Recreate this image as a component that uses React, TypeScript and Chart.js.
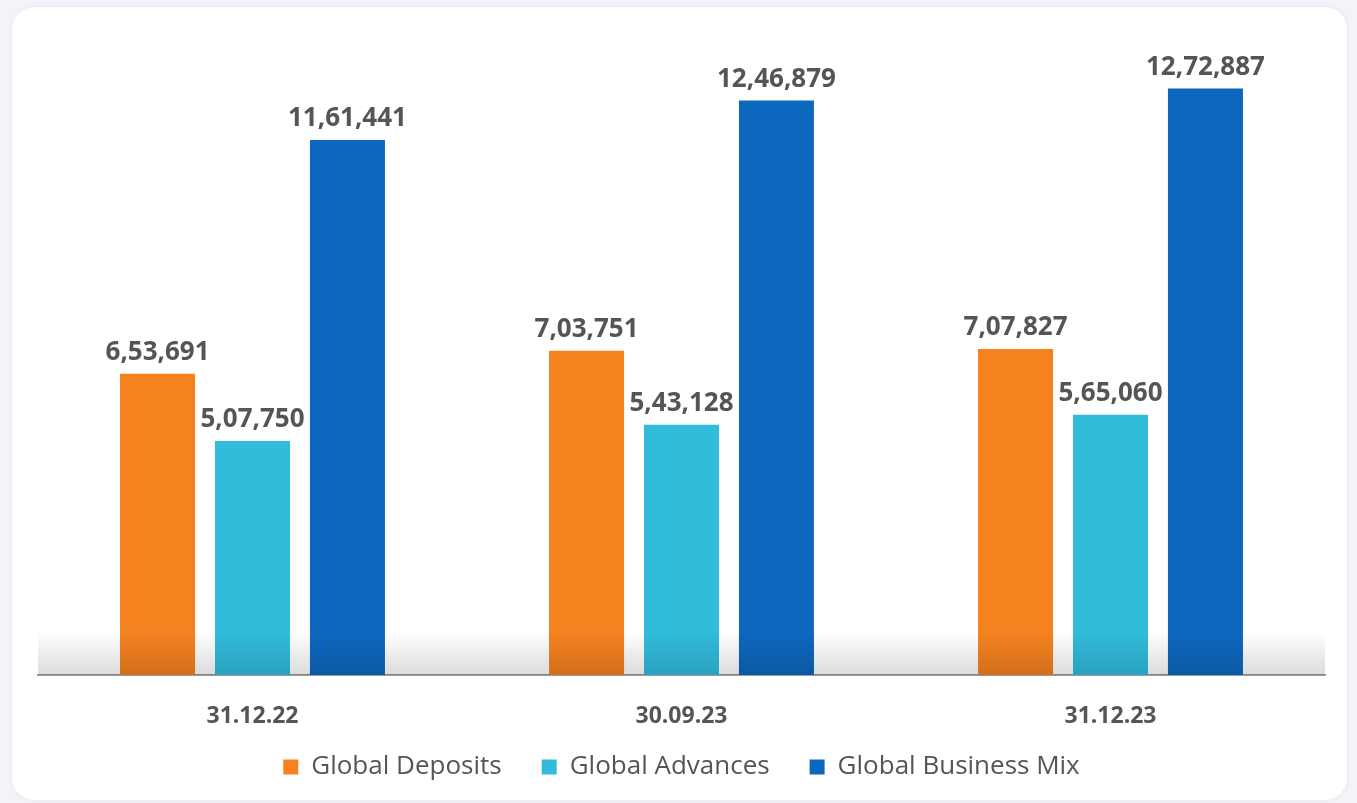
import React, { useEffect, useRef } from "react";
import { Chart, registerables } from "chart.js";

Chart.register(...registerables);

const categories = ["31.12.22", "30.09.23", "31.12.23"];
const seriesNames = ["Global Deposits", "Global Advances", "Global Business Mix"];
const globalDeposits = [653691, 703751, 707827];
const globalAdvances = [507750, 543128, 565060];
const globalBusinessMix = [1161441, 1246879, 1272887];
const seriesColors = ["#F5821F", "#31BCDC", "#0D67BF"];

function formatIndian(v: number): string {
  const s = String(Math.round(v));
  if (s.length <= 3) return s;
  const last3 = s.slice(-3);
  let rest = s.slice(0, -3);
  const parts: string[] = [];
  while (rest.length > 2) {
    parts.unshift(rest.slice(-2));
    rest = rest.slice(0, -2);
  }
  if (rest.length) parts.unshift(rest);
  return parts.join(",") + "," + last3;
}

const valueLabels = {
  id: "valueLabels",
  afterDatasetsDraw(chart: any) {
    const ctx = chart.ctx;
    ctx.save();
    ctx.font = "bold 26px 'Open Sans'";
    ctx.fillStyle = "#555555";
    ctx.textAlign = "center";
    ctx.textBaseline = "alphabetic";
    chart.data.datasets.forEach((ds: any, di: number) => {
      const meta = chart.getDatasetMeta(di);
      meta.data.forEach((bar: any, i: number) => {
        ctx.fillText(formatIndian(ds.data[i]), bar.x, bar.y - 14);
      });
    });
    ctx.restore();
  },
};

const baseShade = {
  id: "baseShade",
  afterDatasetsDraw(chart: any) {
    const { ctx, chartArea } = chart;
    ctx.save();
    const top = chartArea.bottom - 44;
    const g = ctx.createLinearGradient(0, top, 0, chartArea.bottom);
    g.addColorStop(0, "rgba(0,0,0,0)");
    g.addColorStop(1, "rgba(0,0,0,0.14)");
    ctx.fillStyle = g;
    ctx.fillRect(chartArea.left, top, chartArea.right - chartArea.left, chartArea.bottom - top);
    ctx.restore();
  },
};

const legendLift = {
  id: "legendLift",
  afterLayout(chart: any) {
    const lg = chart.legend;
    if (lg) {
      lg.top -= 13;
      lg.bottom -= 13;
    }
  },
};

export default function App() {
  const ref = useRef<HTMLCanvasElement | null>(null);
  useEffect(() => {
    if (!ref.current) return;
    const chart = new Chart(ref.current, {
      type: "bar",
      data: {
        labels: categories,
        datasets: [globalDeposits, globalAdvances, globalBusinessMix].map((d, i) => ({
          label: seriesNames[i],
          data: d,
          backgroundColor: seriesColors[i],
          borderWidth: 0,
          barPercentage: 0.79,
          categoryPercentage: 0.664,
        })),
      },
      options: {
        responsive: true,
        maintainAspectRatio: false,
        animation: false,
        layout: { padding: { left: 38, right: 32, top: 30, bottom: 0 } },
        scales: {
          y: { display: false, min: 0, max: 1400000 },
          x: {
            grid: { display: false, drawTicks: false },
            border: { display: true, color: "#9a9a9a", width: 2 },
            ticks: {
              padding: 28,
              color: "#555555",
              font: { family: "'Open Sans'", size: 23, weight: "bold" },
            },
            afterFit(scale: any) {
              scale.height = 52;
            },
          },
        },
        plugins: {
          tooltip: { enabled: false },
          legend: {
            position: "bottom",
            labels: {
              boxWidth: 15,
              boxHeight: 15,
              padding: 40,
              color: "#555555",
              font: { family: "'Open Sans'", size: 26 },
            },
          },
        },
      },
      plugins: [baseShade, valueLabels, legendLift],
    });
    return () => chart.destroy();
  }, []);

  return (
    <div style={{ position: "fixed", left: 0, top: 0, width: 1357, height: 803, background: "#F4F3F9", overflow: "hidden" }}>
      <div
        style={{
          position: "absolute",
          left: 12,
          top: 7,
          width: 1335,
          height: 793,
          background: "#FFFFFF",
          borderRadius: 22,
          boxShadow: "0 0 4px rgba(120,110,160,0.12)",
        }}
      />
      <div style={{ position: "absolute", left: 0, top: 0, width: 1357, height: 803 }}>
        <canvas ref={ref} />
      </div>
    </div>
  );
}
